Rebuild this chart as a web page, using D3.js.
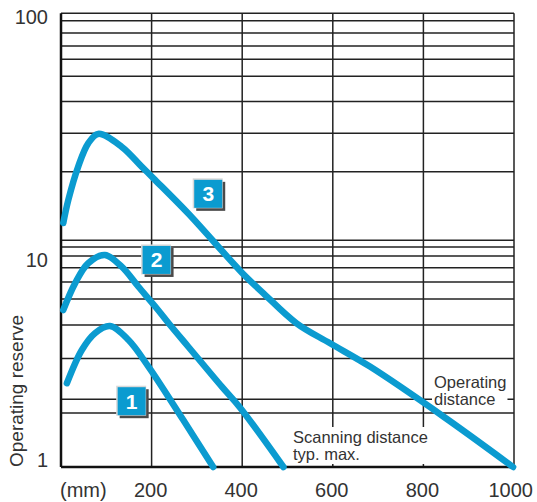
<!DOCTYPE html>
<html>
<head>
<meta charset="utf-8">
<script src="https://cdn.jsdelivr.net/npm/d3@7"></script>
<style>
  body { margin: 0; background: #fff; }
  text { font-family: "Liberation Sans", Arial, sans-serif; fill: #333; }
</style>
</head>
<body>
<script>
// values
const xTicks = [200, 400, 600, 800, 1000];
const yTicks = [1, 10, 100];
const yGrid = [1.73, 1.99, 3.01, 4.23, 5.5, 6.54, 7.56, 8.51, 9.33, 10,
               20, 29.6, 40.9, 52.8, 62.7, 71.8, 81.9, 92.8, 100];

const curve1X = [13, 46, 75, 108, 149, 193, 270, 336];
const curve1Y = [2.34, 3.28, 3.89, 4.18, 3.63, 2.77, 1.61, 1.0];

const curve2X = [5, 31, 60, 97, 134, 171, 208, 244, 281, 355, 395, 491];
const curve2Y = [4.92, 6.45, 7.91, 8.6, 7.64, 6.23, 5.10, 4.15, 3.39, 2.26, 1.83, 1.0];

const curve3X = [5, 16, 38, 60, 82, 134, 178, 208, 281, 400, 447, 520, 594, 682, 844, 998];
const curve3Y = [11.9, 15.0, 21.1, 26.7, 29.4, 25.8, 21.1, 18.4, 13.1, 7.17, 5.83, 4.30, 3.51, 2.77, 1.67, 1.0];

const badgeLabels = ['1', '2', '3'];
const badgeX = [156, 211, 325];
const badgeY = [1.95, 8.18, 16.0];

const width = 537;
const height = 502;
const blue = '#0b9bd0';

const x = d3.scaleLinear().domain([0, 1000]).range([61, 514]);
const y = d3.scaleLog().domain([1, 100]).range([467, 13.3]);

const svg = d3.select('body').append('svg')
    .attr('width', width)
    .attr('height', height);

// grid
svg.append('g')
    .selectAll('line')
    .data(yGrid)
    .join('line')
    .attr('x1', x(0))
    .attr('x2', x(1000))
    .attr('y1', d => y(d))
    .attr('y2', d => y(d))
    .attr('stroke', '#222')
    .attr('stroke-width', 1.5);

svg.append('g')
    .selectAll('line')
    .data(xTicks)
    .join('line')
    .attr('x1', d => x(d))
    .attr('x2', d => x(d))
    .attr('y1', y(100))
    .attr('y2', y(1))
    .attr('stroke', '#222')
    .attr('stroke-width', 1.5);

// axes lines
svg.append('line')
    .attr('x1', x(0)).attr('x2', x(0))
    .attr('y1', y(100)).attr('y2', y(1))
    .attr('stroke', '#111').attr('stroke-width', 2.5);
svg.append('line')
    .attr('x1', x(0)).attr('x2', x(1000))
    .attr('y1', y(1)).attr('y2', y(1))
    .attr('stroke', '#111').attr('stroke-width', 2.5);

// annotations with white background
function note(lines, px, py, lh) {
    const g = svg.append('g');
    const rect = g.append('rect').attr('fill', '#fff');
    const t = g.append('text')
        .attr('font-size', 16.5);
    lines.forEach((s, i) => {
        t.append('tspan').attr('x', px).attr('y', py + i * lh).text(s);
    });
    const b = t.node().getBBox();
    rect.attr('x', b.x - 2).attr('y', b.y - 1)
        .attr('width', b.width + 3).attr('height', b.height + 2);
}
note(['Operating', 'distance'], 434, 388, 17);
note(['Scanning distance', 'typ. max.'], 293, 443, 17);

// curves
const line = d3.line()
    .x(d => x(d[0]))
    .y(d => y(d[1]))
    .curve(d3.curveCatmullRom.alpha(0.5));

[[curve1X, curve1Y], [curve2X, curve2Y], [curve3X, curve3Y]].forEach(([xs, ys]) => {
    svg.append('path')
        .datum(xs.map((v, i) => [v, ys[i]]))
        .attr('d', line)
        .attr('fill', 'none')
        .attr('stroke', blue)
        .attr('stroke-width', 6.5)
        .attr('stroke-linecap', 'round')
        .attr('stroke-linejoin', 'round');
});

// badges
const badge = svg.append('g')
    .selectAll('g')
    .data(badgeLabels)
    .join('g')
    .attr('transform', (d, i) => `translate(${x(badgeX[i])},${y(badgeY[i])})`);
badge.append('rect')
    .attr('x', -12).attr('y', -12).attr('width', 29).attr('height', 29)
    .attr('fill', '#4a4a4a');
badge.append('rect')
    .attr('x', -15.5).attr('y', -15.5).attr('width', 30).attr('height', 30)
    .attr('fill', '#d8d8d8');
badge.append('rect')
    .attr('x', -14).attr('y', -14).attr('width', 28).attr('height', 28)
    .attr('fill', blue);
badge.append('text')
    .attr('text-anchor', 'middle')
    .attr('y', 7.5)
    .attr('font-size', 21)
    .attr('font-weight', 'bold')
    .style('fill', '#fff')
    .text(d => d);

// tick labels
const yLabelShift = { 1: 0, 10: 27, 100: 11 };
svg.append('g')
    .selectAll('text')
    .data(yTicks)
    .join('text')
    .attr('x', 48)
    .attr('y', d => y(d) + yLabelShift[d])
    .attr('text-anchor', 'end')
    .attr('font-size', 20)
    .text(d => d);

svg.append('g')
    .selectAll('text')
    .data(xTicks)
    .join('text')
    .attr('x', d => d === 1000 ? 533 : x(d) - 1)
    .attr('y', 497)
    .attr('text-anchor', d => d === 1000 ? 'end' : 'middle')
    .attr('font-size', 20)
    .text(d => d);

svg.append('text')
    .attr('x', 60)
    .attr('y', 497)
    .attr('font-size', 20)
    .text('(mm)');

svg.append('text')
    .attr('transform', 'translate(23,391) rotate(-90)')
    .attr('text-anchor', 'middle')
    .attr('font-size', 19)
    .text('Operating reserve');
</script>
</body>
</html>
